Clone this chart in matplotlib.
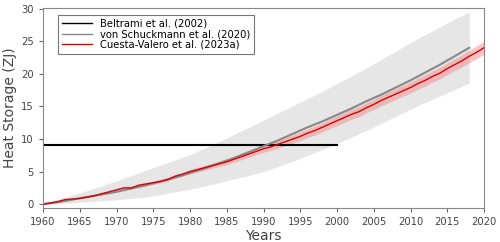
import matplotlib
matplotlib.use("Agg")
import matplotlib.pyplot as plt
import numpy as np

# Cuesta-Valero et al. (2023a), annual
cv_years = np.arange(1960, 2021)
cv_heat = [0.0, 0.2, 0.4, 0.7, 0.8, 0.9, 1.1, 1.3, 1.6, 1.9,
           2.2, 2.5, 2.5, 2.9, 3.1, 3.3, 3.5, 3.8, 4.3, 4.6,
           5.0, 5.3, 5.6, 5.9, 6.2, 6.5, 6.9, 7.3, 7.7, 8.1,
           8.5, 8.8, 9.2, 9.6, 10.0, 10.4, 10.9, 11.3, 11.8, 12.3,
           12.8, 13.3, 13.8, 14.2, 14.8, 15.3, 15.9, 16.4, 16.9, 17.4,
           17.9, 18.5, 19.0, 19.6, 20.1, 20.8, 21.4, 22.0, 22.7, 23.3,
           24.0]
cv_err = [0.05, 0.08, 0.1, 0.1, 0.12, 0.12, 0.14, 0.15, 0.16, 0.17,
          0.18, 0.2, 0.2, 0.22, 0.23, 0.25, 0.26, 0.28, 0.3, 0.32,
          0.34, 0.36, 0.38, 0.4, 0.42, 0.44, 0.46, 0.48, 0.5, 0.52,
          0.54, 0.56, 0.58, 0.6, 0.62, 0.64, 0.66, 0.68, 0.7, 0.72,
          0.74, 0.75, 0.76, 0.77, 0.78, 0.79, 0.8, 0.81, 0.82, 0.83,
          0.84, 0.85, 0.86, 0.87, 0.88, 0.9, 0.92, 0.94, 0.96, 0.98,
          1.0]

# von Schuckmann et al. (2020)
vs_years = [1960, 1962, 1964, 1966, 1968, 1970, 1972, 1974, 1976, 1978,
            1980, 1982, 1984, 1986, 1988, 1990, 1992, 1994, 1996, 1998,
            2000, 2002, 2004, 2006, 2008, 2010, 2012, 2014, 2016, 2018]
vs_heat = [0.0, 0.3, 0.7, 1.1, 1.5, 1.9, 2.4, 2.9, 3.5, 4.1,
           4.8, 5.5, 6.3, 7.1, 8.0, 8.9, 9.8, 10.8, 11.8, 12.7,
           13.7, 14.7, 15.8, 16.8, 17.9, 19.0, 20.2, 21.4, 22.7, 24.0]
vs_upper = [0.0, 0.7, 1.4, 2.1, 2.8, 3.6, 4.4, 5.2, 6.0, 6.8,
            7.6, 8.6, 9.6, 10.7, 11.8, 12.9, 14.0, 15.1, 16.2, 17.3,
            18.5, 19.7, 20.9, 22.2, 23.5, 24.8, 26.0, 27.2, 28.4, 29.5]
vs_lower = [0.0, 0.1, 0.2, 0.4, 0.5, 0.7, 0.9, 1.1, 1.5, 1.9,
            2.3, 2.8, 3.3, 3.9, 4.4, 5.0, 5.8, 6.6, 7.5, 8.4,
            9.3, 10.3, 11.3, 12.4, 13.5, 14.6, 15.6, 16.6, 17.6, 18.6]

# Beltrami et al. (2002)
bt_years = [1960, 2000]
bt_heat = [9.1, 9.1]

fig = plt.figure(figsize=(5.0, 2.42), dpi=100)
ax = fig.add_axes([0.086, 0.14, 0.882, 0.827])

ax.fill_between(vs_years, vs_lower, vs_upper, color="#e6e6e6", lw=0)
ax.fill_between(cv_years, np.array(cv_heat) - np.array(cv_err),
                np.array(cv_heat) + np.array(cv_err), color="#f08080", alpha=0.45, lw=0)
ax.plot(bt_years, bt_heat, color="black", lw=1.5, label="Beltrami et al. (2002)")
ax.plot(vs_years, vs_heat, color="#888888", lw=1.5, label="von Schuckmann et al. (2020)")
ax.plot(cv_years, cv_heat, color="#dd0000", lw=1.0, label="Cuesta-Valero et al. (2023a)")

ax.set_xlim(1960, 2020)
ax.set_ylim(-0.6, 30.1)
ax.set_xticks(range(1960, 2021, 5))
ax.set_yticks(range(0, 31, 5))
ax.tick_params(colors="#666666", labelsize=7.2, labelcolor="#444444", length=3)
for s in ax.spines.values():
    s.set_color("#888888")
ax.set_xlabel("Years", fontsize=10, color="#444444", labelpad=1)
ax.set_ylabel("Heat Storage (ZJ)", fontsize=10, color="#444444", labelpad=3)

leg = ax.legend(loc="upper left", bbox_to_anchor=(0.034, 0.965), borderaxespad=0,
                fontsize=7.2, fancybox=False, edgecolor="#555555",
                handlelength=3.0, labelspacing=0.05, borderpad=0.4)
leg.get_frame().set_linewidth(0.8)
for h in leg.get_lines():
    h.set_linewidth(1.0)

fig.savefig("out.png", dpi=100)
